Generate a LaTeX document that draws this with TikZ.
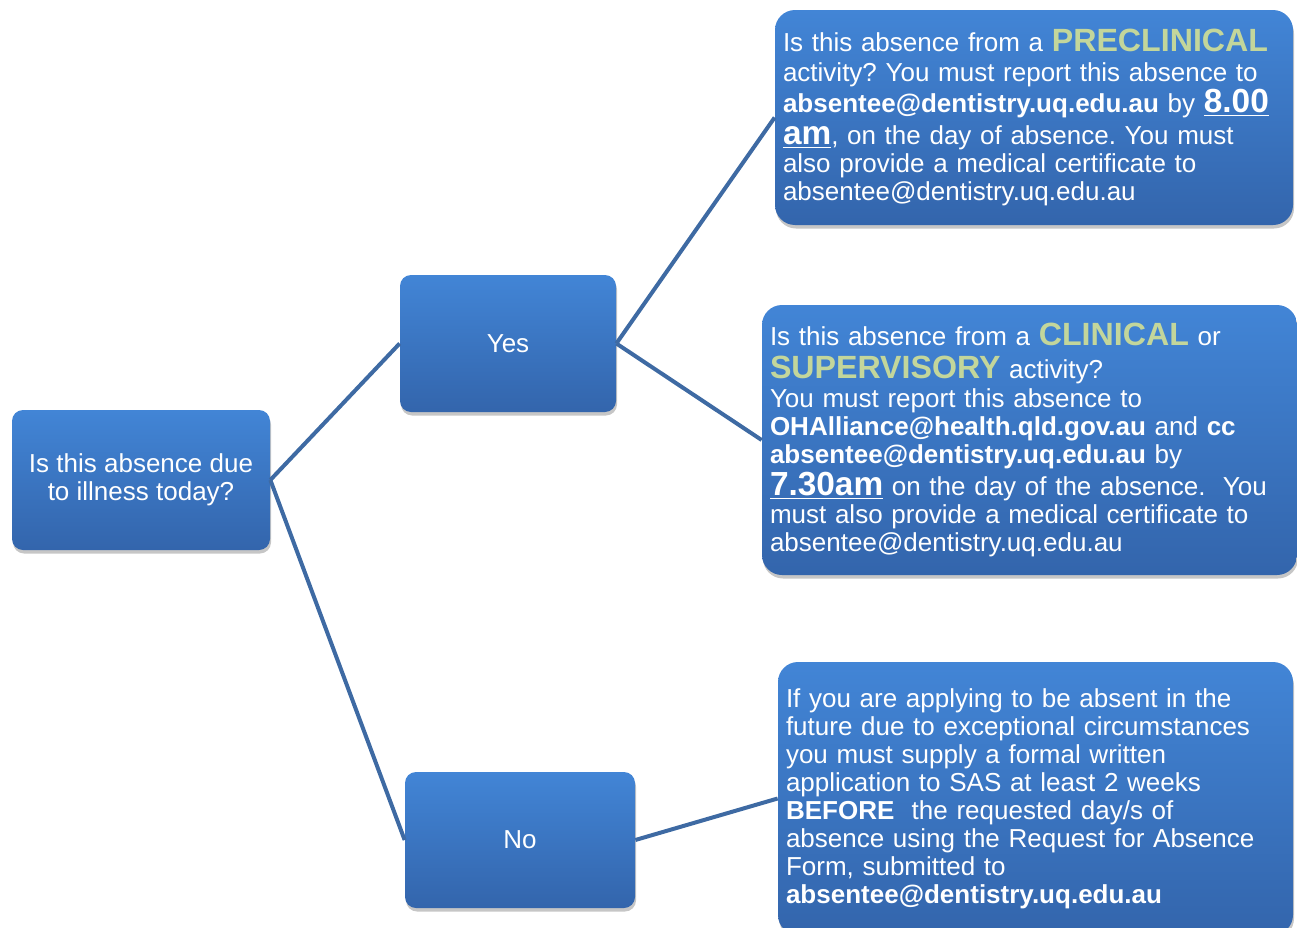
\documentclass[tikz,border=0pt]{standalone}
\usepackage{fontspec}
\setmainfont{Liberation Sans}
\usepackage{xcolor}
\usepackage{tikz}
\usetikzlibrary{shapes.geometric, positioning, shadows}
\definecolor{boxtop}{RGB}{66,133,214}
\definecolor{boxbot}{RGB}{51,101,172}
\definecolor{myline}{RGB}{62,106,163}
\definecolor{mygreen}{RGB}{195,214,155}
\newcommand{\hlword}[1]{{\fontsize{18.3}{15.9}\selectfont\bfseries\color{mygreen}#1}}
\newcommand{\bigtime}[1]{{\fontsize{19}{15.9}\selectfont\bfseries\underline{#1}}}
\tikzstyle{box} = [rectangle, rounded corners=0.22cm, top color=boxtop, bottom color=boxbot, draw=none, text=white, align=center, font=\fontsize{14.8}{15.9}\selectfont\frenchspacing, drop shadow={opacity=0.45, shadow xshift=0.02cm, shadow yshift=-0.07cm}]
\tikzstyle{bigbox} = [box, rounded corners=0.4cm, align=left, inner xsep=0.16cm]
\tikzstyle{line} = [line width=0.08cm, myline]

\begin{document}
\begin{tikzpicture}
\useasboundingbox (0,0) rectangle (25.94,-18.56);

\node[box, minimum width=5.16cm, minimum height=2.80cm] (illness) at (2.82,-9.60) {Is this absence due\\to illness today?};
\node[box, minimum width=4.32cm, minimum height=2.74cm] (yes) at (10.16,-6.87) {Yes};
\node[box, minimum width=4.60cm, minimum height=2.72cm] (no) at (10.40,-16.80) {No};

\node[bigbox, minimum width=10.36cm, minimum height=4.30cm, text width=10.04cm] (preclin) at (20.68,-2.35) {Is this absence from a \hlword{PRECLINICAL}\\[1.1pt]
activity? You must report this absence to\\[0.6pt]
\textbf{absentee@dentistry.uq.edu.au} by \bigtime{8.00}\\[2.4pt]
\bigtime{am}, on the day of absence. You must\\
also provide a medical certificate to\\
absentee@dentistry.uq.edu.au};

\node[bigbox, minimum width=10.70cm, minimum height=5.40cm, text width=10.38cm] (clinical) at (20.59,-8.80) {Is this absence from a \hlword{CLINICAL} or\\[2.8pt]
\hlword{SUPERVISORY} activity?\\[0.6pt]
You must report this absence to\\
\textbf{OHAlliance@health.qld.gov.au} and \textbf{cc}\\
\textbf{absentee@dentistry.uq.edu.au} by\\[1.1pt]
\bigtime{7.30am} on the day of the absence.\ \ You\\
must also provide a medical certificate to\\
absentee@dentistry.uq.edu.au};

\node[bigbox, minimum width=10.30cm, minimum height=5.46cm, text width=9.98cm] (future) at (20.71,-15.97) {If you are applying to be absent in the\\
future due to exceptional circumstances\\
you must supply a formal written\\
application to SAS at least 2 weeks\\
\textbf{BEFORE}\ \ the requested day/s of\\
absence using the Request for Absence\\
Form, submitted to\\
\textbf{absentee@dentistry.uq.edu.au}};

% connectors
\draw[line] (illness.east) -- (yes.west);
\draw[line] (illness.east) -- (no.west);
\draw[line] (yes.east) -- (preclin.west);
\draw[line] (yes.east) -- (clinical.west);
\draw[line] (no.east) -- (future.west);
\end{tikzpicture}
\end{document}
